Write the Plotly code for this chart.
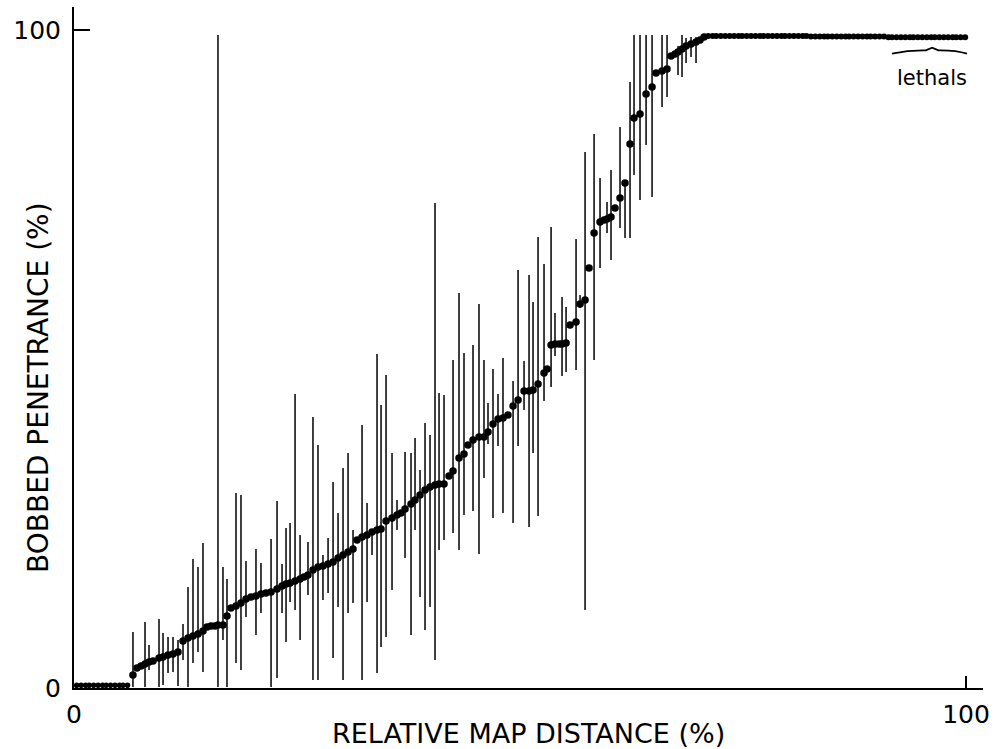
import plotly.graph_objects as go

# ---------------- data ----------------
# flat zero-penetrance group at the left
zero_x = [0.3, 0.8, 1.3, 1.7, 2.2, 2.7, 3.2, 3.6, 4.1, 4.6, 5.1, 5.5, 6.0]
zero_y = [0.4] * 13

# rising group: position, penetrance, upper and lower limit of the bar (None = no bar)
rise_x = [6.61, 7.06, 7.51, 7.96, 8.41, 8.86, 9.53, 9.98, 10.54, 11.10,
          11.66, 12.22, 12.78, 13.34, 13.90, 14.46, 14.91, 15.36, 15.81, 16.14,
          16.70, 17.15, 17.60, 18.16, 18.72, 19.28, 19.84, 20.40, 20.96, 21.52,
          22.09, 22.76, 23.32, 23.77, 24.22, 24.78, 25.34, 25.78, 26.23, 26.79,
          27.35, 27.91, 28.48, 29.04, 29.60, 30.16, 30.72, 31.28, 31.73, 32.29,
          32.85, 33.41, 33.97, 34.42, 34.98, 35.65, 36.21, 36.66, 37.11, 37.78,
          38.23, 38.79, 39.35, 39.91, 40.47, 40.92, 41.48, 42.04, 42.49, 43.16,
          43.72, 44.17, 44.73, 45.40, 45.96, 46.41, 46.97, 47.53, 48.09, 48.65,
          49.22, 49.78, 50.45, 51.01, 51.46, 52.02, 52.69, 53.03, 53.48, 53.92,
          54.37, 54.71, 55.16, 55.61, 56.28, 56.73, 57.29, 57.74, 58.30, 58.97,
          59.42, 59.75, 60.20, 60.65, 61.21, 61.77, 62.33, 62.78, 63.45, 64.13,
          64.80, 65.25, 65.92, 66.48, 66.93, 67.38, 67.71, 68.16, 68.61, 69.17,
          69.73, 70.18, 70.63]
rise_y = [1.98, 3.04, 3.34, 3.65, 3.95, 4.10, 4.56, 4.71, 5.02, 5.17,
          5.47, 7.14, 7.60, 7.90, 8.21, 8.66, 9.27, 9.42, 9.42, 9.57,
          9.57, 10.94, 12.16, 12.46, 12.92, 13.53, 13.83, 13.98, 14.29, 14.44,
          14.59, 15.05, 15.50, 15.81, 15.96, 16.26, 16.57, 16.87, 17.17, 17.93,
          18.39, 18.54, 18.84, 19.15, 19.76, 20.21, 20.67, 21.12, 22.49, 22.95,
          23.25, 23.71, 24.01, 24.16, 25.38, 25.84, 26.29, 26.60, 27.20, 27.96,
          28.57, 29.33, 30.09, 30.55, 30.85, 31.00, 31.00, 32.22, 32.98, 34.95,
          35.56, 36.93, 37.69, 38.15, 38.15, 38.91, 40.12, 40.88, 41.03, 41.49,
          42.86, 43.77, 45.14, 45.14, 45.29, 46.20, 47.87, 48.48, 52.13, 52.28,
          52.28, 52.28, 52.43, 55.17, 55.62, 58.36, 58.97, 63.83, 69.15, 70.82,
          71.12, 71.28, 71.58, 72.95, 74.47, 76.75, 82.67, 86.63, 87.23, 90.27,
          91.34, 93.47, 93.77, 94.07, 96.05, 96.35, 96.66, 97.11, 97.57, 97.87,
          98.18, 98.48, 98.94]
rise_hi = [8.51, None, None, 10.03, 6.53, None, 10.49, 8.36, 7.75, 7.75,
           7.29, 9.73, 15.35, 19.60, 18.39, 22.04, None, None, None, 99.24,
           18.39, 16.57, None, 29.64, 29.33, 19.30, None, 21.12, 19.00, None,
           22.64, 28.42, 18.84, 24.32, 25.08, 44.68, 23.25, None, 22.19, 41.19,
           36.93, 20.21, 22.80, 31.31, 26.60, 33.43, 35.71, 24.01, None, 39.97,
           28.12, 24.01, 50.76, 43.01, 47.57, 35.71, 28.57, None, 35.87, 35.71,
           37.99, 33.13, 40.27, 38.45, 73.71, 44.83, 44.53, None, 49.85, 60.03,
           50.91, None, 52.13, 58.36, 49.85, 43.31, 48.48, 44.68, 50.15, None,
           46.66, 63.53, 49.70, 62.77, 58.66, 68.54, 64.44, None, 70.06, 56.99,
           None, 59.42, 57.90, None, 68.24, 59.73, 81.46, None, 84.19, 77.51,
           None, 73.86, 78.72, None, 85.26, None, 92.10, 99.24, 99.24, 99.24,
           99.24, None, 99.24, 99.24, None, None, 97.57, 99.24, 98.78, 98.94,
           98.94, None, None]
rise_lo = [0.15, None, None, 0.15, 2.74, None, 0.15, 0.46, 2.28, 2.43,
           0.30, 4.26, 0.15, 3.80, 5.47, 2.43, None, None, None, 0.15,
           7.29, 0.15, None, 3.80, 2.74, 10.79, None, 8.05, 11.40, None,
           0.15, 1.52, 11.40, 6.99, 13.07, 11.85, 7.29, None, 14.13, 1.22,
           1.22, 13.37, 14.44, 4.56, 12.31, 1.22, 11.40, 12.92, None, 1.22,
           13.07, 20.21, 2.28, 6.23, 7.75, 14.89, 24.01, None, 19.76, 8.05,
           24.01, 13.83, 8.81, 12.31, 4.26, 20.97, 22.49, None, 23.56, 20.97,
           26.29, None, 26.90, 20.36, 31.91, 37.08, 25.84, 36.78, 26.60, None,
           25.08, 36.78, 42.25, 24.47, 35.71, 26.14, 43.62, None, 45.74, 50.46,
           None, 47.42, 48.02, None, 48.33, 57.75, 11.85, None, 49.85, 63.83,
           None, 69.15, 65.05, None, 69.91, 68.39, 68.39, 77.96, 74.16, 82.52,
           74.62, None, 88.30, 89.82, None, None, 93.16, 92.86, 94.98, 95.90,
           94.98, None, None]

# top plateau (100 % penetrance, including the lethals at the right)
top_x = [71.1, 71.6, 72.0, 72.5, 73.0, 73.5, 74.0, 74.5, 74.9, 75.4,
         75.9, 76.4, 76.9, 77.3, 77.8, 78.3, 78.8, 79.3, 79.7, 80.2,
         80.7, 81.2, 81.7, 82.1, 82.6, 83.1, 83.6, 84.1, 84.5, 85.0,
         85.5, 86.0, 86.5, 86.9, 87.4, 87.9, 88.4, 88.9, 89.3, 89.8,
         90.3, 90.8, 91.3, 91.7, 92.2, 92.7, 93.2, 93.7, 94.1, 94.6,
         95.1, 95.6, 96.1, 96.5, 97.0, 97.5, 98.0, 98.5, 98.9, 99.4, 99.9]
top_y = [99.1, 99.1, 99.1, 99.1, 99.1, 99.1, 99.1, 99.1, 99.1, 99.1,
         99.1, 99.1, 99.1, 99.1, 99.1, 99.1, 99.1, 99.1, 99.1, 99.1,
         99.1, 99.1, 99.1, 99.1, 99.0, 99.0, 99.0, 99.0, 99.0, 99.0,
         99.0, 99.0, 99.0, 99.0, 99.0, 99.0, 99.0, 99.0, 99.0, 99.0,
         99.0, 99.0, 98.9, 98.9, 98.9, 98.9, 98.9, 98.9, 98.9, 98.9,
         98.9, 98.9, 98.9, 98.9, 98.9, 98.9, 98.9, 98.9, 98.9, 98.9, 98.9]

x_ticks = [0, 100]
y_ticks = [0, 100]
x_title = "RELATIVE MAP DISTANCE (%)"
y_title = "BOBBED PENETRANCE (%)"
lethal_label = "lethals"

# ---------------- figure ----------------
err_plus = [(h - y) if h is not None else 0 for h, y in zip(rise_hi, rise_y)]
err_minus = [(y - l) if l is not None else 0 for l, y in zip(rise_lo, rise_y)]

FONT = "DejaVu Sans"
fig = go.Figure()

fig.add_trace(go.Scatter(
    x=rise_x, y=rise_y, mode="markers",
    marker=dict(color="black", size=7.5),
    error_y=dict(type="data", symmetric=False, array=err_plus, arrayminus=err_minus,
                 width=0, thickness=1.5, color="black"),
    showlegend=False, hoverinfo="x+y"))

fig.add_trace(go.Scatter(
    x=zero_x, y=zero_y, mode="markers",
    marker=dict(color="black", size=5.5), showlegend=False))

fig.add_trace(go.Scatter(
    x=top_x, y=top_y, mode="markers",
    marker=dict(color="black", size=6), showlegend=False))

# brace under the lethals
fig.add_shape(type="path",
              path="M 91.7,96.4 Q 93.6,96.95 95.5,96.9 L 96.2,97.3 L 96.9,96.9 Q 98.8,96.95 100.1,96.4",
              xref="x", yref="y", line=dict(color="black", width=1.8))
fig.add_annotation(x=96.2, y=92.7, xref="x", yref="y", text=lethal_label, showarrow=False,
                   font=dict(family=FONT, size=21, color="black"))

fig.add_annotation(x=0.5, y=-0.0675, xref="paper", yref="paper", text=x_title, showarrow=False,
                   xanchor="center", yanchor="middle", borderpad=0,
                   font=dict(family=FONT, size=27, color="black"))
fig.add_annotation(x=-0.0396, y=0.4405, xref="paper", yref="paper", text=y_title, showarrow=False,
                   textangle=-90, xanchor="center", yanchor="middle",
                   font=dict(family=FONT, size=28, color="black"))

fig.update_xaxes(range=[0, 101.9], showline=True, linecolor="black", linewidth=2,
                 tickvals=x_ticks, ticktext=[str(v) for v in x_ticks],
                 ticks="inside", ticklen=12, tickwidth=1.5, tickcolor="black",
                 showgrid=False, zeroline=False, ticklabelstandoff=3,
                 tickfont=dict(family=FONT, size=25, color="black"))
fig.update_yaxes(range=[0, 103.5], showline=True, linecolor="black", linewidth=2,
                 tickvals=y_ticks, ticktext=[str(v) for v in y_ticks],
                 ticks="inside", ticklen=16, tickwidth=1.5, tickcolor="black",
                 showgrid=False, zeroline=False, ticklabelstandoff=6,
                 tickfont=dict(family=FONT, size=25, color="black"))

fig.update_layout(width=1000, height=749, margin=dict(l=74, r=17, t=7, b=61),
                  plot_bgcolor="white", paper_bgcolor="white")

fig.write_html("out.html", config={"displayModeBar": False},
               post_script="document.body.style.margin='0';document.body.style.overflow='hidden';")
